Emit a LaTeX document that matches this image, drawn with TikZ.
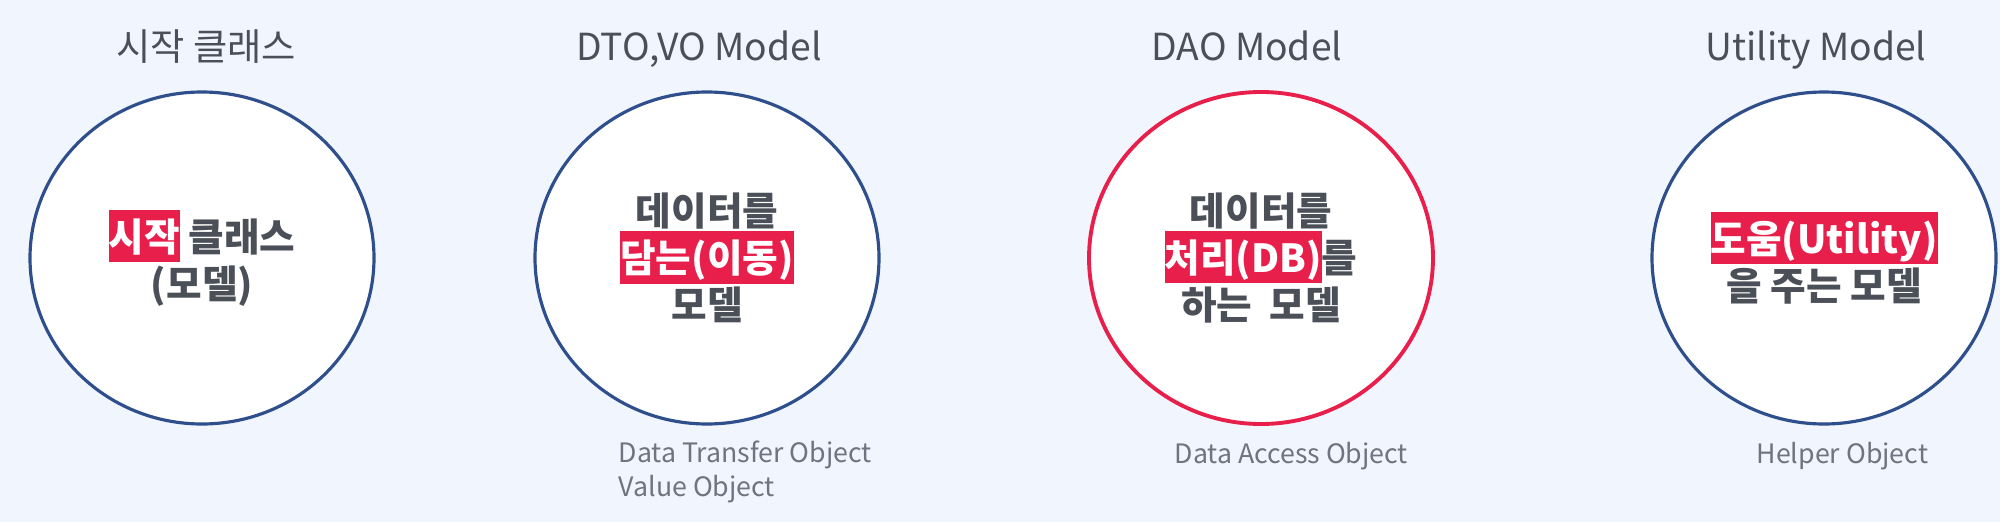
\documentclass[tikz,border=0pt]{standalone}
\usepackage{fontspec}
\setmainfont{Noto Sans CJK KR}
\usetikzlibrary{shapes.geometric,positioning}
\definecolor{bgblue}{HTML}{F0F5FE}
\definecolor{ringblue}{HTML}{2F4F8C}
\definecolor{hlred}{HTML}{E81F4A}
\definecolor{txtgray}{HTML}{4B5058}
\definecolor{subgray}{HTML}{6E7480}
\setlength{\fboxsep}{0pt}
\setlength{\lineskiplimit}{-\maxdimen}
\newcommand{\hlbox}[1]{\colorbox{hlred}{\textcolor{white}{\rule[-0.28em]{0pt}{1.35em}#1}}}
\tikzset{
  ring/.style={ellipse,draw=ringblue,line width=0.9pt,fill=white,minimum width=3.44cm,minimum height=3.32cm,inner sep=0pt,
    align=center,text=txtgray,font=\fontsize{11}{13.4}\selectfont\bfseries},
  title/.style={anchor=base,inner sep=0pt,text=txtgray,font=\fontsize{10.6}{13}\selectfont},
  sub/.style={anchor=base west,inner sep=0pt,align=left,text=subgray,font=\fontsize{7.6}{9.4}\selectfont},
}
\begin{document}
\begin{tikzpicture}
        \fill[bgblue](0,0)rectangle(20,5.22);
        \node[ring](start)at(2.02,2.64){\hlbox{시작} 클래스\\(모델)};
        \node[ring](dto)at(7.07,2.64){데이터를\\\hlbox{담는(이동)}\\모델};
        \node[ring,draw=hlred,line width=1.1pt](dao)at(12.61,2.64){데이터를\\\hlbox{처리(DB)}를\\하는\ \ 모델};
        \node[ring](util)at(18.24,2.64){\hlbox{도움(Utility)}\\을 주는 모델};
        \node[title](startT)at(2.06,4.62){시작 클래스};
        \node[title](dtoT)at(6.99,4.62){DTO,VO Model};
        \node[title](daoT)at(12.47,4.62){DAO Model};
        \node[title](utilT)at(18.16,4.62){Utility Model};
        \node[sub](dtoS)at(6.18,0.26){Data Transfer Object\\Value Object};
        \node[sub](daoS)at(11.74,0.59){Data Access Object};
        \node[sub](utilS)at(17.56,0.59){Helper Object};
\end{tikzpicture}
\end{document}
